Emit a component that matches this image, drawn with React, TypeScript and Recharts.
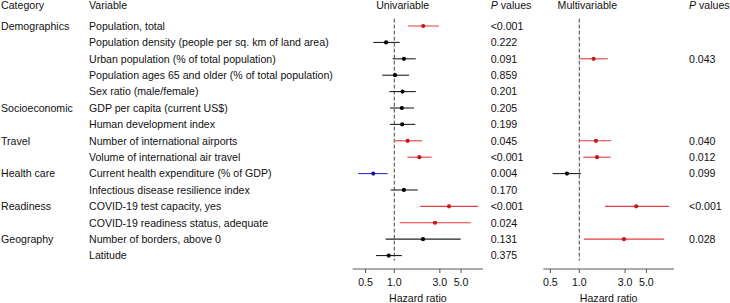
import React from 'react';
import { ScatterChart, Scatter, XAxis, YAxis, ErrorBar, ReferenceLine } from 'recharts';

const categories = ['Demographics', '', '', '', '', 'Socioeconomic', '', 'Travel', '', 'Health care', '', 'Readiness', '', 'Geography', ''];
const variables = [
  'Population, total',
  'Population density (people per sq. km of land area)',
  'Urban population (% of total population)',
  'Population ages 65 and older (% of total population)',
  'Sex ratio (male/female)',
  'GDP per capita (current US$)',
  'Human development index',
  'Number of international airports',
  'Volume of international air travel',
  'Current health expenditure (% of GDP)',
  'Infectious disease resilience index',
  'COVID-19 test capacity, yes',
  'COVID-19 readiness status, adequate',
  'Number of borders, above 0',
  'Latitude',
];

const uniHR = [2.01, 0.82, 1.26, 1.02, 1.22, 1.2, 1.21, 1.38, 1.83, 0.603, 1.26, 3.74, 2.67, 2.0, 0.874];
const uniLow = [1.39, 0.603, 0.962, 0.749, 0.886, 0.901, 0.9, 1.0, 1.37, 0.42, 0.917, 1.87, 1.14, 0.813, 0.643];
const uniHigh = [2.94, 1.14, 1.68, 1.43, 1.68, 1.61, 1.66, 1.95, 2.46, 0.853, 1.76, 7.52, 6.31, 4.96, 1.2];
const uniP = ['<0.001', '0.222', '0.091', '0.859', '0.201', '0.205', '0.199', '0.045', '<0.001', '0.004', '0.170', '<0.001', '0.024', '0.131', '0.375'];
const uniEffect = ['risk', 'ns', 'ns', 'ns', 'ns', 'ns', 'ns', 'risk', 'risk', 'protective', 'ns', 'risk', 'risk', 'ns', 'ns'];

const multiHR = [null, null, 1.41, null, null, null, null, 1.49, 1.53, 0.744, null, 3.92, null, 2.92, null];
const multiLow = [null, null, 1.0, null, null, null, null, 1.0, 1.1, 0.528, null, 1.85, null, 1.12, null];
const multiHigh = [null, null, 1.98, null, null, null, null, 2.15, 2.12, 1.04, null, 8.6, null, 7.63, null];
const multiP = ['', '', '0.043', '', '', '', '', '0.040', '0.012', '0.099', '', '<0.001', '', '0.028', ''];
const multiEffect = ['', '', 'risk', '', '', '', '', 'risk', 'risk', 'ns', '', 'risk', '', 'risk', ''];

const xTicks = [0.5, 1, 3, 5];
const rowTicks = variables.map((_, i) => i);

const FONT = '"Liberation Sans", Arial, Helvetica, sans-serif';
const FS = 10.6;
const TXT = '#111';

const LINE_COLORS: Record<string, string> = { risk: '#e8393c', ns: '#222222', protective: '#2f2fc8' };
const DOT_COLORS: Record<string, string> = { risk: '#c8141c', ns: '#000000', protective: '#1414a0' };

type Row = { row: number; hr: number; err: [number, number] };

function buildRows(hr: (number | null)[], lo: (number | null)[], hi: (number | null)[], effect: string[], kind: string): Row[] {
  const out: Row[] = [];
  hr.forEach((v, i) => {
    if (v == null || effect[i] !== kind) return;
    out.push({ row: i, hr: v, err: [v - (lo[i] as number), (hi[i] as number) - v] });
  });
  return out;
}

const kinds = ['ns', 'risk', 'protective'];

const LeftTick = (props: any) => {
  const { y, payload } = props;
  const i = payload.value as number;
  return (
    <g>
      <text x={1} y={y} dy="0.355em" fontSize={FS} fill={TXT} fontFamily={FONT}>{categories[i]}</text>
      <text x={89} y={y} dy="0.355em" fontSize={FS} fill={TXT} fontFamily={FONT}>{variables[i]}</text>
      <text x={490.7} y={y} dy="0.355em" fontSize={FS} fill={TXT} fontFamily={FONT}>{uniP[i]}</text>
    </g>
  );
};

const RightTick = (props: any) => {
  const { y, payload } = props;
  const i = payload.value as number;
  return (
    <text x={169} y={y} dy="0.355em" fontSize={FS} fill={TXT} fontFamily={FONT}>{multiP[i]}</text>
  );
};

const dot = (color: string) => (p: any) => <circle cx={p.cx} cy={p.cy} r={2.1} fill={color} />;

function Panel(props: {
  width: number; margin: any; yWidth: number; domain: [number, number];
  hr: (number | null)[]; lo: (number | null)[]; hi: (number | null)[]; effect: string[]; tick: any;
}) {
  const { width, margin, yWidth, domain, hr, lo, hi, effect, tick } = props;
  return (
    <ScatterChart width={width} height={303} margin={margin}>
      <XAxis
        type="number"
        dataKey="hr"
        scale="log"
        domain={domain}
        allowDataOverflow
        ticks={xTicks}
        interval={0}
        tickFormatter={(v: number) => v.toFixed(1)}
        tickSize={4}
        tickMargin={5}
        height={34}
        stroke="#555"
        tick={{ fontSize: FS, fill: TXT, fontFamily: FONT }}
        label={{ value: 'Hazard ratio', position: 'insideBottom', offset: 1, fill: TXT, fontSize: FS, fontFamily: FONT }}
      />
      <YAxis
        type="number"
        dataKey="row"
        domain={[-0.55, 14.82]}
        allowDataOverflow
        reversed
        ticks={rowTicks}
        interval={0}
        width={yWidth}
        axisLine={false}
        tickLine={false}
        tick={tick}
      />
      <ReferenceLine
        segment={[{ x: 1, y: -0.45 }, { x: 1, y: 14.3 }]}
        stroke="#444"
        strokeDasharray="4 2"
        ifOverflow="visible"
      />
      {kinds.map((k) => {
        const data = buildRows(hr, lo, hi, effect, k);
        if (!data.length) return null;
        return (
          <Scatter key={k} data={data} isAnimationActive={false} shape={dot(DOT_COLORS[k])}>
            <ErrorBar dataKey="err" direction="x" width={0} stroke={LINE_COLORS[k]} strokeWidth={1.1} />
          </Scatter>
        );
      })}
    </ScatterChart>
  );
}

export default function App() {
  return (
    <div style={{ position: 'absolute', left: 0, top: 0, width: 730, height: 303, background: '#fff', fontFamily: FONT }}>
      <div style={{ position: 'absolute', left: 0, top: 0 }}>
        <Panel
          width={545}
          margin={{ top: 17, right: 62, bottom: 0, left: 0 }}
          yWidth={352.7}
          domain={[0.367, 8.49]}
          hr={uniHR}
          lo={uniLow}
          hi={uniHigh}
          effect={uniEffect}
          tick={LeftTick}
        />
      </div>
      <div style={{ position: 'absolute', left: 520, top: 0 }}>
        <Panel
          width={210}
          margin={{ top: 17, right: 56, bottom: 0, left: 0 }}
          yWidth={23.3}
          domain={[0.422, 9.69]}
          hr={multiHR}
          lo={multiLow}
          hi={multiHigh}
          effect={multiEffect}
          tick={RightTick}
        />
      </div>
      <svg width={730} height={303} style={{ position: 'absolute', left: 0, top: 0, pointerEvents: 'none' }}>
        <g fontFamily={FONT} fontSize={FS} fill={TXT}>
          <text x={1} y={5} dy="0.355em">Category</text>
          <text x={89} y={5} dy="0.355em">Variable</text>
          <text x={402.7} y={5} dy="0.355em" textAnchor="middle">Univariable</text>
          <text x={490.7} y={5} dy="0.355em"><tspan fontStyle="italic">P</tspan> values</text>
          <text x={587.3} y={5} dy="0.355em" textAnchor="middle">Multivariable</text>
          <text x={689} y={5} dy="0.355em"><tspan fontStyle="italic">P</tspan> values</text>
        </g>
      </svg>
    </div>
  );
}
